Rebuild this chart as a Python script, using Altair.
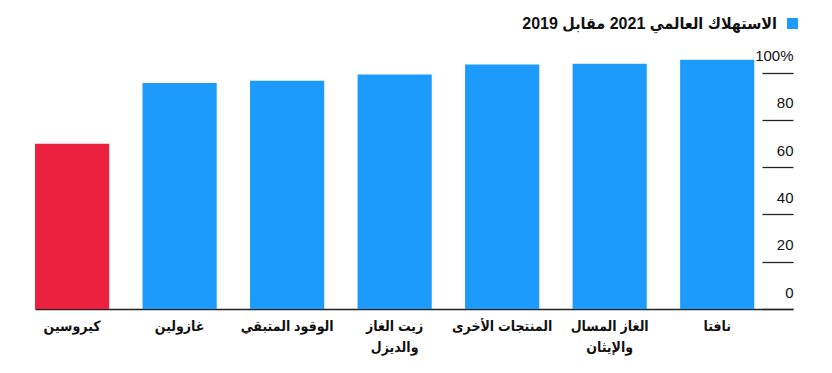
import altair as alt
import pandas as pd

categories = [
    "كيروسين",
    "غازولين",
    "الوقود المتبقي",
    "زيت الغاز\nوالديزل",
    "المنتجات الأخرى",
    "الغاز المسال\nوالإيثان",
    "نافتا",
]
values = [69.9, 95.6, 96.6, 99.2, 103.4, 103.8, 105.5]
highlight = ["kero", "yes", "yes", "yes", "yes", "yes", "yes"]
series_name = "الاستهلاك العالمي 2021 مقابل 2019"
y_ticks = [0, 20, 40, 60, 80, 100]

df = pd.DataFrame({"cat": categories, "val": values, "hl": highlight})

FONT = "Liberation Sans, Arial, DejaVu Sans Condensed, DejaVu Sans, sans-serif"

chart = alt.Chart(df).mark_bar().encode(
    x=alt.X(
        "cat:N",
        sort=None,
        title=None,
        scale=alt.Scale(paddingInner=0.31, paddingOuter=0.18, align=0),
        axis=alt.Axis(
            labelAngle=0,
            labelExpr="split(datum.label, '\\n')",
            labelFont=FONT,
            labelFontSize=14,
            labelFontWeight="bold",
            labelColor="#111",
            labelLineHeight=21,
            labelPadding=10,
            ticks=False,
            domainColor="#222",
            domainWidth=1.5,
            labelLimit=200,
        ),
    ),
    y=alt.Y(
        "val:Q",
        title=None,
        scale=alt.Scale(domain=[0, 110], nice=False),
        axis=alt.Axis(
            orient="right",
            values=y_ticks,
            offset=-31,
            tickSize=31,
            tickColor="#222",
            tickWidth=1.3,
            domain=False,
            grid=False,
            labelAlign="right",
            labelBaseline="alphabetic",
            labelOffset=-12,
            labelPadding=0,
            labelFont=FONT,
            labelFontSize=15,
            labelColor="#111",
            labelExpr="datum.value == 100 ? '100%' : datum.label",
        ),
    ),
    color=alt.Color(
        "hl:N",
        scale=alt.Scale(domain=["yes", "kero"], range=["#1D9BFD", "#EB213F"]),
        legend=alt.Legend(
            values=["yes"],
            title=None,
            orient="none",
            legendX=752,
            legendY=-31,
            symbolType="square",
            symbolSize=120,
            symbolStrokeWidth=0,
            labelExpr="''",
            labelOffset=0,
            padding=0,
        ),
    ),
).properties(
    width=758,
    height=260,
    padding={"left": 35, "top": 49, "right": 39, "bottom": 64},
    autosize=alt.AutoSizeParams(type="none"),
    title=alt.TitleParams(
        text=series_name,
        anchor="end",
        frame="group",
        baseline="alphabetic",
        offset=0,
        dy=27,
        dx=-16,
        font=FONT,
        fontSize=16,
        fontWeight="bold",
        color="#111",
    ),
).configure(background="white").configure_view(stroke=None)

chart.save("out.html", embed_options={"renderer": "svg", "actions": False})
